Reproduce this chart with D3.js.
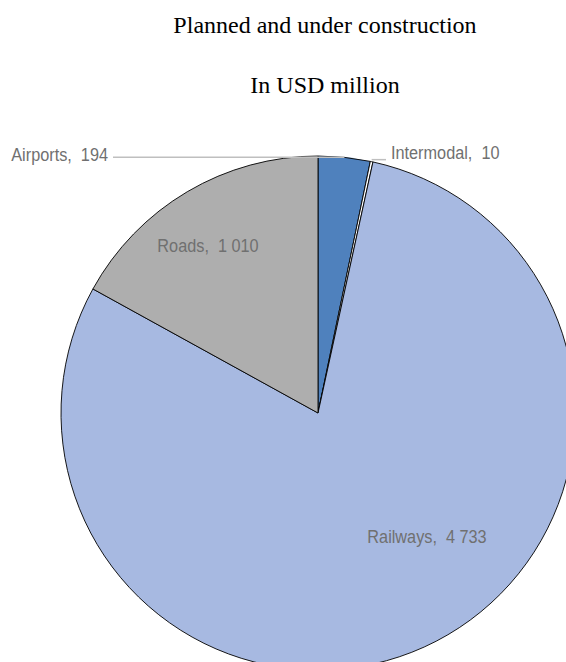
<!DOCTYPE html>
<html>
<head>
<meta charset="utf-8">
<script src="https://cdn.jsdelivr.net/npm/d3@7"></script>
<style>
  html, body { margin: 0; padding: 0; background: #ffffff; }
  svg { display: block; }
</style>
</head>
<body>
<script>
// Transport infrastructure investment, planned and under construction (USD million)
const categories = ["Airports", "Intermodal", "Railways", "Roads"];
const values = [194, 10, 4733, 1010];
const valueLabels = ["194", "10", "4\u00a0733", "1\u00a0010"];
const sliceColors = ["#4f81bd", "#ffffff", "#a7b9e1", "#aeaeae"];
const titleLines = ["Planned and under construction", "In USD million"];

const width = 566, height = 662;
const cx = 318, cy = 413, radius = 257;

const data = categories.map((c, i) => ({ name: c, value: values[i], label: valueLabels[i], color: sliceColors[i] }));

const svg = d3.select("body").append("svg")
  .attr("width", width).attr("height", height);

// Title
svg.selectAll("text.title").data(titleLines).join("text")
  .attr("class", "title")
  .attr("x", 325)
  .attr("y", (d, i) => 33 + i * 60)
  .attr("text-anchor", "middle")
  .style("font-family", "'Liberation Serif', 'Times New Roman', serif")
  .style("font-size", "24px")
  .style("fill", "#000")
  .text(d => d);

const pie = d3.pie().sort(null).value(d => d.value);
const arcs = pie(data);
const arc = d3.arc().innerRadius(0).outerRadius(radius);

const g = svg.append("g").attr("transform", `translate(${cx},${cy})`);

g.selectAll("path.slice").data(arcs).join("path")
  .attr("class", "slice")
  .attr("d", arc)
  .attr("fill", d => d.data.color)
  .attr("stroke", "#000")
  .attr("stroke-width", 0.9)
  .attr("stroke-linejoin", "round");

// Point on the outer edge at a slice's middle angle
function edgePoint(a, r) {
  const m = (a.startAngle + a.endAngle) / 2;
  return [r * Math.sin(m), -r * Math.cos(m)];
}

const labelStyle = sel => sel
  .style("font-family", "'Liberation Sans', Arial, sans-serif")
  .style("font-size", "18.5px")
  .style("fill", "#707070");

function addLabel(x, y, anchor, text) {
  const t = svg.append("g").attr("transform", `translate(${x},${y}) scale(0.88,1)`)
    .append("text")
    .attr("text-anchor", anchor)
    .text(text);
  labelStyle(t);
}

const byName = {};
arcs.forEach(a => { byName[a.data.name] = a; });
const labelText = a => `${a.data.name},\u00a0\u00a0${a.data.label}`;

// Airports: label outside to the left, horizontal leader line
{
  const a = byName["Airports"];
  const [ex, ey] = edgePoint(a, radius);
  svg.append("line")
    .attr("x1", cx + ex).attr("y1", cy + ey)
    .attr("x2", 113).attr("y2", cy + ey)
    .attr("stroke", "#bfbfbf").attr("stroke-width", 1.5);
  addLabel(108, 160.5, "end", labelText(a));
}

// Intermodal: label outside to the right, short leader
{
  const a = byName["Intermodal"];
  const [ex, ey] = edgePoint(a, radius);
  svg.append("line")
    .attr("x1", cx + ex).attr("y1", cy + ey - 2)
    .attr("x2", 386).attr("y2", cy + ey - 2)
    .attr("stroke", "#bfbfbf").attr("stroke-width", 1.5);
  addLabel(391, 159, "start", labelText(a));
}

// Roads and Railways: labels inside their slices
addLabel(208, 251.5, "middle", labelText(byName["Roads"]));
addLabel(427, 543, "middle", labelText(byName["Railways"]));
</script>
</body>
</html>
